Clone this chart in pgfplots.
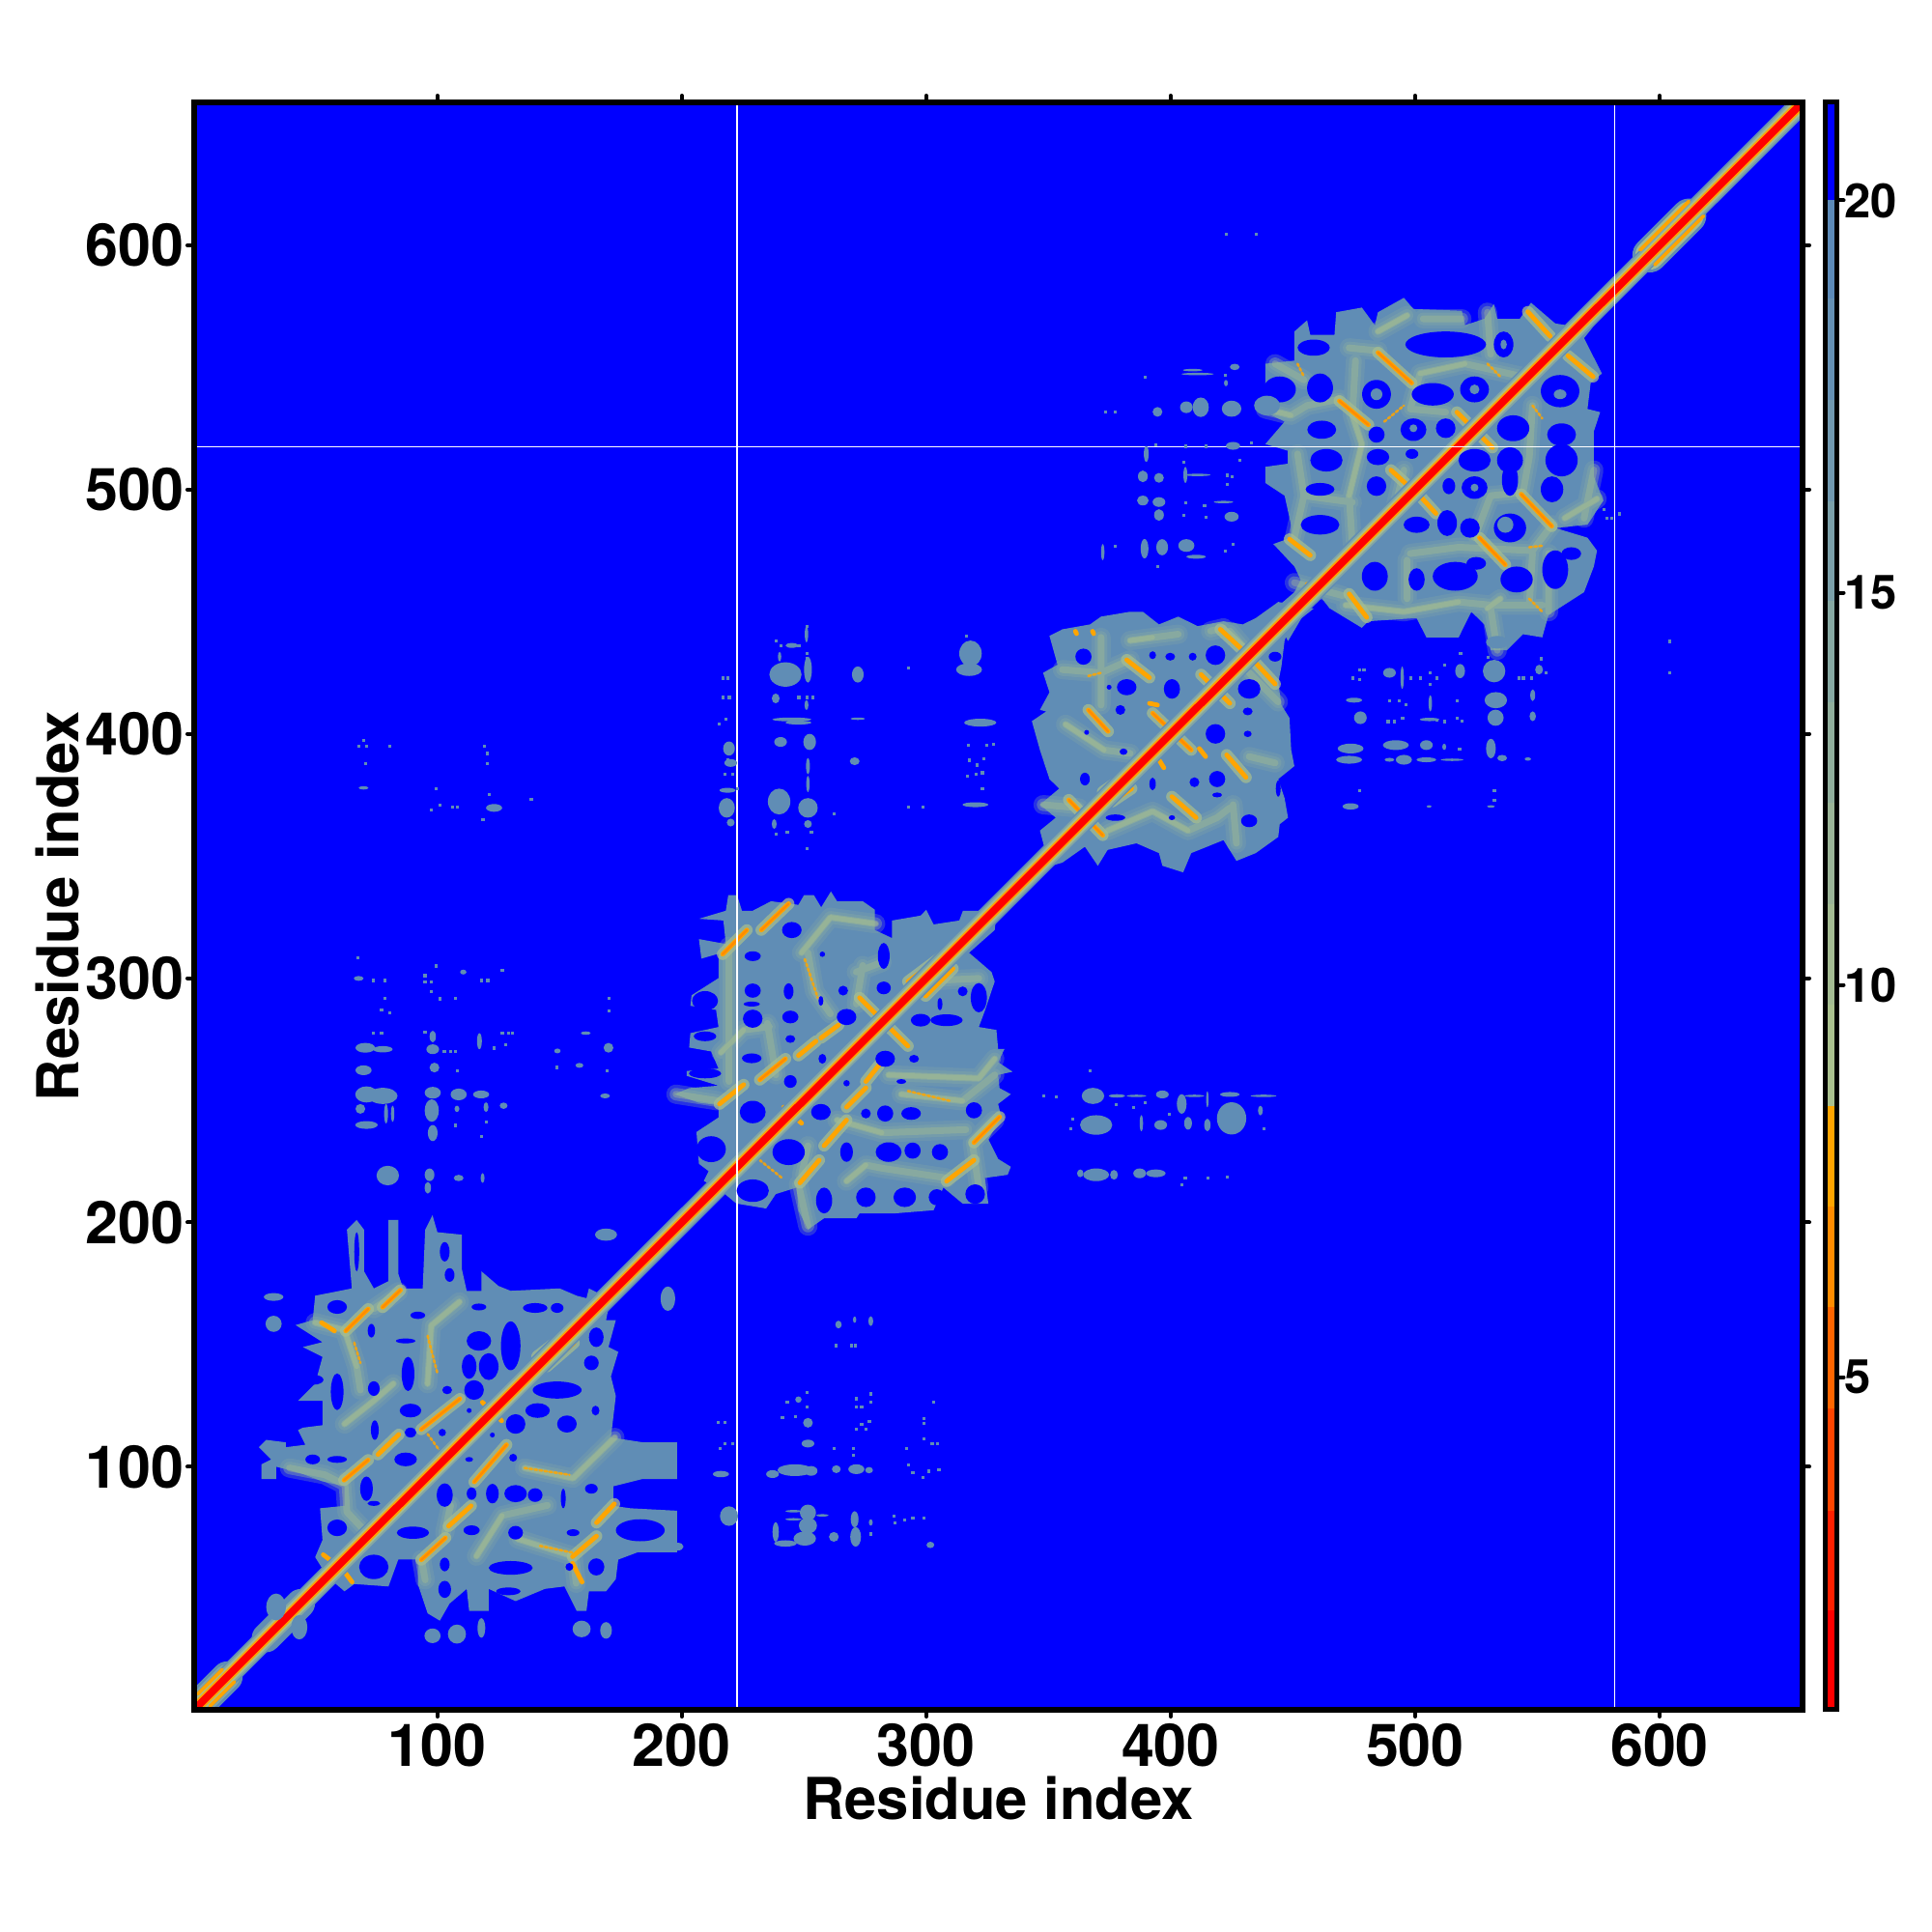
\documentclass[border=0pt]{standalone}
\usepackage{fontspec}
\setmainfont{TeX Gyre Heros}
\usepackage{pgfplots}
\usepackage{pgfplotstable}
\pgfplotsset{compat=1.18}
\definecolor{bgblue}{HTML}{0000FF}
\definecolor{steel}{HTML}{608DB5}
\definecolor{ridgeA}{HTML}{82A6A6}
\definecolor{ridgeB}{HTML}{A5BD90}
\definecolor{orgA}{HTML}{FFA500}
\definecolor{orgB}{HTML}{FF8C00}
\definecolor{redA}{HTML}{FF0000}
\definecolor{cb1}{HTML}{FF2000}
\definecolor{cb2}{HTML}{FF4500}
\definecolor{cb3}{HTML}{FF6600}
\definecolor{cb4}{HTML}{FF8C00}
\definecolor{cb5}{HTML}{A9C08E}
\definecolor{cb6}{HTML}{A3BB92}
\definecolor{cb7}{HTML}{9AB497}
\definecolor{cb8}{HTML}{90AE9C}
\definecolor{cb9}{HTML}{86A8A2}
\definecolor{cb10}{HTML}{7BA0A9}
\definecolor{cb11}{HTML}{7098AF}
\definecolor{cb12}{HTML}{6691B4}
\definecolor{cb13}{HTML}{5C8AB8}
\pgfdeclareplotmark{bell}{\pgfpathellipse{\pgfpointorigin}{\pgfpoint{\rxv pt}{0pt}}{\pgfpoint{0pt}{\ryv pt}}\pgfusepathqfill}
\pgfplotsset{
 blobs/.style={scatter, only marks, mark=bell, scatter/use mapped color={draw=none,fill=#1},
   visualization depends on={\thisrow{rx}*1.265 \as \rxv},
   visualization depends on={\thisrow{ry}*1.265 \as \ryv}},
 pix/.style={only marks, color=#1, mark=square*, mark size=0.55pt, mark options={solid,fill=#1,draw=#1,line width=.1pt}},
 strk/.style 2 args={draw=#1, line width=#2, line cap=round, line join=round, no marks, unbounded coords=jump},
 seg/.style={fill=#1, draw=none},
}
\pgfplotstableread[row sep=\\]{x y\\
50 159\\62 156\\67 141\\68.5 131.4\\nan nan\\39.5 99.5\\54 96.7\\62 92.6\\nan nan\\62 117.5\\74 127\\82 134\\nan nan\\96 134\\97.5 157.8\\109 167.5\\nan nan\\74 164.7\\84 171.6\\nan nan\\135.7 99.5\\155.5 95.3\\172.6 112\\nan nan\\116 63.4\\126.5 80\\145 84.2\\nan nan\\133 70.4\\155.5 63.4\\nan nan\\103 73\\105.4 84.2\\nan nan\\155.5 63.4\\156.8 52.3\\nan nan\\95 53.7\\93.5 62\\nan nan\\62 95.3\\63 81.5\\71 73\\nan nan\\
249 310.4\\260.8 324.9\\279.3 322.3\\nan nan\\251.6 310.4\\254.3 294.6\\260.8 285.4\\nan nan\\274 305.2\\271.4 289.4\\nan nan\\271.4 302.5\\281.9 306.5\\nan nan\\216 269.6\\225.3 278.8\\235.8 280.1\\nan nan\\284.6 260.4\\321.5 259\\328 267\\nan nan\\289.8 252.5\\314.9 249.8\\328 260.4\\nan nan\\197.6 252.5\\214.7 249.8\\nan nan\\267.4 216.9\\275.3 223.5\\281.9 222.2\\308.3 218.2\\nan nan\\251.6 198.5\\247.7 215.6\\nan nan\\263.5 241.9\\281.9 236.7\\316.2 238\\nan nan\\328 241.9\\318.8 232.7\\321.5 214.3\\nan nan\\295 298.6\\321.5 299.9\\nan nan\\219.3 313\\219.3 257.7\\nan nan\\235 281.5\\238.5 260.4\\nan nan\\251.6 231.4\\249 219.5\\nan nan\\
383.4 438.2\\403.1 440.8\\nan nan\\416.3 442.1\\421.6 443.4\\nan nan\\355.7 426.3\\371.5 425\\383.4 430.3\\nan nan\\432.1 390.7\\442.7 388.1\\nan nan\\374.2 360.4\\392.6 368.3\\407.1 360.4\\419 365.7\\424.2 369.7\\nan nan\\347.8 371\\362.3 369.7\\nan nan\\357 403.9\\372.8 393.4\\383.4 392\\nan nan\\426.9 355.2\\425.5 371\\nan nan\\432.1 425\\444 413.1\\nan nan\\424.2 442.1\\432.1 432.9\\nan nan\\371.5 439.5\\371.5 411.8\\nan nan\\
438.7 533\\449.2 530.4\\455.8 534.4\\469 537\\nan nan\\502 547.5\\520.4 551.5\\544.1 546.2\\nan nan\\442.7 551.5\\454.5 544.9\\nan nan\\473 558\\484.8 556.8\\nan nan\\475.6 552.8\\474.3 530.4\\478.2 518.6\\473 497.5\\474.3 477.7\\nan nan\\502 547.5\\498 533\\512.5 531.7\\nan nan\\530.9 497.5\\544.1 498.8\\546.7 513.3\\548 534.4\\nan nan\\530.9 497.5\\524.3 480.3\\nan nan\\556 485.6\\548 475\\517.8 476.4\\498 473.8\\nan nan\\451.9 514.6\\454.5 497.5\\450.6 480.3\\nan nan\\454.5 497.5\\474.3 494.8\\nan nan\\495.4 508\\491.4 490.9\\nan nan\\471.6 452.7\\495.4 450\\517.8 454\\530.9 452.7\\552 452.7\\nan nan\\530.9 451.4\\533.6 434.2\\nan nan\\569.1 488.3\\573.1 508\\nan nan\\470.3 456.6\\450.6 461.9\\nan nan\\496.7 471.1\\496.7 455.3\\nan nan\\554.6 473.8\\554.6 450\\nan nan\\484.8 564.7\\496.7 571.3\\nan nan\\561.2 488.3\\574.4 496.2\\nan nan\\529.6 451.4\\534.9 455.3\\nan nan\\503.3 569.9\\519.1 569.9\\nan nan\\529.6 572.6\\530.9 555.4\\nan nan\\548 473.8\\546.7 452.7\\}\ridgetbl
\begin{document}
\begin{tikzpicture}
\path[use as bounding box] (0,0) rectangle (1000pt,1000pt);
\begin{axis}[
 at={(100.5pt,115pt)}, anchor=south west, scale only axis, width=832.5pt, height=832pt,
 xmin=0.5,xmax=658.5,ymin=0.5,ymax=658.5,
 axis background/.style={fill=bgblue},
 axis on top, axis line style={line width=3pt, black},
 xtick={100,200,300,400,500,600}, ytick={100,200,300,400,500,600},
 xtick pos=both, ytick pos=both, tick align=outside, major tick length=3.5pt,
 tick style={black, line width=2pt, line cap=round},
 /pgf/number format/assume math mode=true,
 xticklabel pos=bottom, yticklabel pos=left,
 ticklabel style={font=\bfseries\fontsize{30.5}{30.5}\selectfont},
 xticklabel style={yshift=0pt},
 yticklabel style={xshift=1.5pt},
 xlabel={Residue index}, ylabel={Residue index},
 every axis x label/.style={at={(axis description cs:0.5,-0.0547)},anchor=center,font=\bfseries\fontsize{29.9}{29.9}\selectfont},
 every axis y label/.style={at={(axis description cs:-0.0847,0.5)},anchor=center,rotate=90,font=\bfseries\fontsize{29.9}{29.9}\selectfont},
]
% ---------- domain bodies ----------
\addplot[fill=steel,draw=none] coordinates {(55,55)(50,63)(53,70)(52,83)(62,84)(62,92)(53,94)(45,97)(38,99)(34,100)(34,95)(28,95)(28,101)(32,103)(27,108)(30,111)(38,110)(38,108)(46,109)(43,115)(45,116)(53,117)(53,127)(43,127)(50,134)(53,145)(45,149)(53,151)(42,158)(49,160)(50,170)(65,173)(63,197)(67,201)(70,197)(70,180)(74,173)(80,176)(80,201)(84,201)(84,179)(86,173)(94,173)(95,197)(98,203)(100,196)(110,195)(110,181)(112,172)(118,172)(118,180)(125,174)(130,172)(150,173)(157,170)(161,169)(162,173)(168,170)(170,165)(169,160)(173,160)(170,149)(174,147)(171,137)(173,129)(171,112)(184,110)(198,110)(198,95)(184,95)(172,92)(172,84)(179,83)(198,82)(198,65)(182,65)(174,62)(173,54)(169,49)(162,49)(161,41)(157,41)(152,51)(144,50)(132,45)(121,50)(121,41)(113,41)(112,50)(105,44)(101,37)(96,40)(92,52)(92,62)(84,62)(80,51)(66,52)(62,49)} --cycle;
\addplot[fill=steel,draw=none] coordinates {(222,208)(216,213)(209,217)(211,221)(207,224)(206,237)(215,243)(215,248)(207,249)(197,252.5)(203,255)(215,256)(202,260)(202,262)(215,263)(212,270)(203,271.6)(203.5,277.5)(215,280)(214,287)(203.5,288.7)(204,293)(215,300)(215,310)(208,308)(207,316)(218,314)(217,323.6)(207,324.3)(218,327.6)(219,334)(222.6,334)(224.6,327.6)(229,327.6)(236.5,331.5)(247.7,330)(250,334)(254,334)(257,329)(261,335.5)(263.5,331.5)(274,331.5)(279,328)(279,319.7)(286,316.4)(286,323.6)(297.7,325.6)(300,328)(303,322)(313.5,323.6)(315,327.6)(321.5,327.6)(329.4,332.8)(328,319.7)(317.5,310.4)(326.7,302.5)(328,298.6)(324,286.7)(321.5,280)(328.7,278.8)(329.4,271)(332,271)(329.4,265.6)(335.3,261.7)(329.4,260.4)(330,255)(334.6,252.5)(329.4,248.5)(330.7,243.2)(325.4,234)(329.4,226)(334.6,222.8)(333.3,219.5)(324,218.2)(325.4,207.7)(314.9,207.7)(307,214.3)(303,205)(287,203.7)(272.7,203.7)(271.4,201.7)(258.2,201.7)(251.6,197.1)(247.7,205)(247,214.3)(238.4,211.6)(234.5,205.7)(222.6,207.7)} --cycle;
\addplot[fill=steel,draw=none] coordinates {(349,351)(346.5,360.4)(353,365.7)(346.5,371)(354.4,377.6)(350.4,381.5)(346.5,393.4)(343.2,405.2)(349.1,409.2)(346.5,409.8)(350.4,417)(347.8,425)(353.7,428.3)(350.4,440.1)(355.7,442.8)(367,444.8)(371.5,448)(383.4,450)(388.6,450)(395.2,444.8)(403.1,448)(411,444.1)(421.6,446.1)(429.5,444.8)(434.8,447.4)(444,454)(458.5,451.3)(448.6,443.4)(446.6,438.2)(445.3,427.6)(444,421)(445.3,411.8)(448.6,406.5)(449.3,393.4)(450.6,386.8)(444,381.5)(446.6,373.6)(448,365.7)(444.6,363)(444,357.8)(434.8,351.2)(426.9,348)(421.6,356.5)(408.4,351.2)(405.1,343.3)(396.6,346)(395.2,351.2)(386,355.2)(374.2,352.5)(370.2,346)(364.9,353.8)(355.7,347.3)(346.5,344.6)} --cycle;
\addplot[fill=steel,draw=none] coordinates {(448,438)(441.3,450)(450.6,458)(453.2,463)(450.6,468.5)(442,477.7)(449.2,480.3)(449.2,485.6)(446.6,497.5)(438.7,502.7)(438.7,509.3)(447.9,510.6)(447.9,515.9)(438.7,518.6)(446.6,527.8)(438.7,531.7)(438.7,551.5)(450.6,552.8)(450.6,564.7)(455.8,569.3)(457.1,563.3)(467,563.3)(467.7,572.6)(478.2,574.5)(483.5,567.3)(484.8,572.6)(495.4,578.5)(499.3,573.9)(519.1,573.2)(520.4,567.3)(528.3,569.9)(532.2,575.9)(533.6,569.9)(542.8,569.9)(547.4,576.5)(557.3,568)(561.9,567.3)(577,580.5)(581.7,577.8)(569.1,562)(576.4,547.5)(571.8,543.6)(570.5,533)(575.7,531.7)(573.1,523.8)(573.1,505.4)(577,495.5)(570.5,485.6)(557.3,484.3)(570.5,480.3)(574.4,475)(573.1,468.5)(569.1,458)(554.6,448.7)(552,439.5)(544.1,440.8)(537.5,434.2)(530.9,434.2)(528.3,444.8)(523,450)(517.8,439.5)(504.6,439.5)(500.6,447.4)(480.9,446.1)(478.2,443.4)(465,451.4)(459.8,458)} --cycle;
% ---------- ridges (soft, layered) ----------
\addplot[strk={ridgeA}{10pt},opacity=.3] table {\ridgetbl};
\addplot[strk={ridgeA}{6.5pt},opacity=.45] table {\ridgetbl};
\addplot[strk={ridgeB}{3.5pt},opacity=.4] table {\ridgetbl};
\addplot[strk={ridgeB}{2.5pt},opacity=.5] table[row sep=\\] {x y\\
50 159\\62 156\\67 141\\nan nan\\62 117.5\\74 127\\82 134\\nan nan\\96 134\\97.5 157.8\\109 167.5\\nan nan\\135.7 99.5\\155.5 95.3\\172.6 112\\nan nan\\116 63.4\\126.5 80\\nan nan\\133 70.4\\155.5 63.4\\nan nan\\
249 310.4\\260.8 324.9\\279.3 322.3\\nan nan\\216 269.6\\225.3 278.8\\nan nan\\284.6 260.4\\321.5 259\\328 267\\nan nan\\289.8 252.5\\314.9 249.8\\nan nan\\267.4 216.9\\275.3 223.5\\nan nan\\263.5 241.9\\281.9 236.7\\nan nan\\
383.4 438.2\\392.6 439.5\\nan nan\\374.2 360.4\\392.6 368.3\\407.1 360.4\\nan nan\\357 403.9\\372.8 393.4\\nan nan\\
484.8 564.7\\496.7 571.3\\nan nan\\561.2 488.3\\574.4 496.2\\nan nan\\529.6 451.4\\534.9 455.3\\nan nan\\502 547.5\\520.4 551.5\\nan nan\\471.6 452.7\\495.4 450\\517.8 454\\nan nan\\474.3 530.4\\478.2 518.6\\473 497.5\\nan nan\\438.7 533\\449.2 530.4\\};
% ---------- holes ----------
\addplot[blobs=bgblue] table[row sep=\\] {x y rx ry\\
183 74 10 4.5\\59 165.4 4 2.8\\73 155.7 1.5 2.8\\87 151.5 4 1\\92 162 3 1.5\\117 165.4 3 1.4\\140 165 5 2\\149 165 2.6 2\\130 149.5 4 10\\117 151.5 5 4\\113 141 3 5\\121 141 4 5.5\\165 153 3 4\\163 142.5 3 3\\115 131.4 4 4\\104 131.4 2 1.7\\149 131.4 10 3.5\\74 132 2.4 3\\59 130.7 2.6 7.5\\88 138 2.6 7\\89 123 4.4 2.8\\74.4 115 1.6 4\\89 114 2.4 2\\102 114 1.5 1.5\\113 123 1 1\\122.5 113 1 1\\132 117.5 4 4\\141 123 5 3\\153 117.5 4 3.5\\164.7 123 1.6 2\\87 103 4.6 2.8\\59 103 4 1.4\\49 103 3 2\\113 103 1.6 1\\131 103.7 1.6 1.6\\103 88.4 3.3 4.8\\114 89 2 2.5\\122.5 89 2.6 4\\132 89 4.6 3.5\\140 88.4 3 2.8\\151.5 87 1 4\\163 91 2.6 2\\71 91 2.6 5\\74 85 2.6 1\\59 75 4 3.4\\90 73 6.6 2.5\\114 74 3.3 2\\132 73 3 2.8\\155.5 73 2.6 1.4\\74 59 6 5\\87 58 2.6 3.5\\103 60 2 2.8\\130 58.6 9 2.8\\165 59 3.3 3.5\\103 49.8 2.6 3.5\\129 49 5 1.6\\154 59 1.6 1.6\\67 188 1 8\\103 188 2 4\\105 178.5 2 2.8\\49.4 135.6 4 2\\
245 319.7 4 3.3\\257.5 309.8 1.1 1.1\\229 309 3.3 2\\229 294.9 3.3 2.9\\243.7 294.6 2 3.3\\229 283.4 4 3.7\\244.4 284.1 3.3 2.6\\244.4 275.1 2 1.6\\228.6 267.2 4 2\\266 294.9 2 2\\267.4 284.1 4 3.3\\282.6 296 2.9 2.6\\282.6 309.1 2.4 5.3\\283.2 267 4 3.3\\295 267 2 1.6\\257.5 267 1.6 2\\297.7 282.8 4 2.6\\308.3 282.8 6.6 2.4\\321.5 292 3.3 6\\314.9 294.6 2 2\\244.4 257.7 2.6 2.6\\267.4 257 1.3 1.3\\229 245.2 5.3 4.6\\256.9 245.2 4 3.3\\283.2 244.6 3.3 3.3\\275.3 244.6 2 2\\293.8 244.6 4 2.6\\319.5 245.9 3.3 3.3\\212 230 6 5.3\\243.7 228.8 6.6 5.3\\267.4 228.8 2.6 4\\284.6 228.8 5.3 4\\294.4 229.4 3.3 3.3\\305.6 228.8 3.3 3.3\\229 213 6.6 4.6\\258.2 209 3.3 5.3\\275.3 210.3 4 4\\291.2 210.3 4.6 4\\304.3 210.3 3.3 3.3\\320 211.6 4 4\\209.5 290.7 5.3 4\\209.5 276.2 4.6 2\\209.5 261 6.6 2\\289.8 257.7 2 1\\305.6 289.4 1 2.6\\256.9 290.7 1 2\\228.6 289.4 3.3 1\\
364.3 431.6 3.3 3.3\\392.6 432.2 1.4 1.6\\399.8 431.6 2 1.6\\409 431.6 1.6 1.6\\418.3 432.2 4 4\\400.5 418.4 3.3 4\\432.1 418.4 4.6 4\\382 419.1 4 3.3\\374.8 419.1 1 1\\379.4 409.8 2 2\\431.5 409.2 2 1.6\\418.3 400 4 4\\431.5 400 1.6 1.3\\419 381.5 3.3 3.3\\409.7 380.2 2 2\\392.6 379.5 1.3 2.6\\364.9 381.5 2 2.6\\377.4 365.7 4 1.3\\400.5 365.7 1.3 1\\432.1 364.4 3.3 2.6\\380.7 392.7 1.6 1.3\\365.6 400.6 1 1\\442.7 431.6 2.6 2\\419 375 2 1\\444 377.6 1 3.3\\
461.1 541.6 5.3 5.9\\484.2 539 5.9 5.9\\507.2 539 8.6 4.6\\524.3 541 5.9 5.3\\559.3 540.3 7.9 6.6\\461.8 524.5 5.9 3.7\\499.3 524.5 5.3 4.6\\512.5 525.1 4 4\\540.1 525.1 6.6 5.3\\559.9 522.5 5.9 4.6\\484.2 522.5 3.3 3.3\\463.7 512 6.6 4.6\\484.8 513.3 4.6 3.3\\498.7 514.6 2.6 2\\524.3 512 6.6 4.6\\538.8 512 5.3 5.3\\559.9 512 6.6 6.6\\461.1 500.1 5.9 2.6\\484.2 501.4 4 4\\524.3 500.8 5.3 4.6\\513.8 501.4 2.6 3.3\\538.8 504 3.3 6.6\\556 500.1 4.6 5.3\\461.1 485.6 7.9 4\\500.6 485.6 5.3 3.3\\513.1 486.3 4 5.3\\522.4 484.3 4 4\\538.8 484.3 6.6 5.9\\483.5 464.5 5.3 5.9\\500.6 463.2 3.3 4.6\\516.4 464.5 9.2 5.9\\525 469.8 4 2.6\\541.5 463.2 6.6 5.3\\557.3 467.2 5.3 7.9\\512.5 559.4 16.5 5.3\\536.2 559.4 4 5.3\\458.5 558.1 6.6 3.3\\444.6 541 6.6 5.3\\563.9 473.8 4 2.6\\};
% ---------- steel islands and off-diagonal clusters ----------
\addplot[blobs=steel] table[row sep=\\] {x y rx ry\\
484.2 539 2.4 2.4\\524.3 541 2 2\\559.3 539 2.6 2\\536.2 559.4 1.3 2\\499.3 525.1 1.6 1.6\\524.3 500.8 1.6 1.6\\536.9 485.6 3.3 3.3\\
33 169.5 4 1.6\\33 158.5 3.3 3.3\\34 42.6 4 5.5\\43.5 34.3 3.3 5\\98 30.8 3.3 3\\108 31.5 3.7 3.9\\118 34 1.6 4\\159 33.6 3.7 3.4\\169 33 2.4 3.4\\169 195 4.5 2.5\\194.3 168.8 3 5\\
219.3 79.8 3.7 4\\251.6 81.2 3.3 3.3\\251.6 75.9 3.7 3.3\\250.3 70.6 4.6 2.9\\242.4 68.6 4.6 1.3\\238.4 73.3 1.3 4\\270.7 78.5 1.6 3.3\\271.1 71.3 2.2 4\\262.2 71.3 2 2\\277.3 77.2 .8 1.3\\246.3 98.6 7.2 2.4\\252.9 98.3 2.6 2\\237.1 97 2.6 1.6\\263.2 99 1.8 1.6\\271.4 99 3.3 2\\276.6 98.6 1.6 1.3\\216 97 3.3 1.3\\198.3 67.3 2.4 1.6\\251.6 118 2 2\\247.7 127.5 1.3 1.3\\251.6 109.5 2.6 1.6\\264.1 158.2 1.3 1.6\\277.3 159.6 1 2\\270.7 160.2 .7 1.3\\301.7 68 1.6 1.3\\245.7 81.8 3.3 .5\\245.7 78.5 3.3 .5\\257.5 80.1 2.6 .5\\
70.5 271.5 4 2\\77.7 270.9 4 1.3\\71 252.4 4.6 3.3\\77.7 251.8 6 3.3\\98.1 276.1 1.3 2.4\\98.1 270.9 2.6 2\\98.8 263.4 2 2\\98.1 253.1 3.3 2.4\\97.7 245.8 2.9 4.6\\79.7 219.2 4.6 4\\68.5 246.5 2 2\\108.7 252.4 3.3 2.4\\117.9 252.4 3.3 1.6\\127.1 247.8 1.6 1.3\\69.8 262.3 3.3 2\\71 239.9 4.6 1.6\\67.8 299.9 2 1\\69.8 377.9 2 .7\\110.6 302.5 1.3 1\\123.2 369.7 3.3 1.6\\160.7 277.5 2 .7\\170 271.5 2 2\\158.1 264.3 1.6 1\\149.1 270.2 1.3 1\\96.8 219.5 2 2.6\\96.1 214.2 1.3 2.4\\108.7 218.2 2 1.3\\118.5 218.2 .8 2\\79 244.5 .8 4\\81.7 244.5 .7 3.3\\119.9 247.2 1 2\\108 246.5 1 1.3\\168.6 251.8 2 1\\117.2 274.2 1 3.3\\98.1 236.6 2 3.3\\
368.2 251.8 4.6 3.3\\369.5 239.9 6.6 4\\378 251.8 3.3 .7\\396.6 252.4 2.6 1.6\\404.5 248.5 2 4\\407.1 240.6 1.6 2.6\\415 239.9 1.3 2.6\\424.9 242.6 6 6.6\\424.2 252.4 4 1\\395.9 239.9 2.6 2\\369.5 219.5 5.3 2.6\\376.8 219.5 1.6 2\\363 220.1 1.3 1.6\\393.9 220.1 4 1.6\\387.3 220.1 2.6 2\\436.7 245.8 1 2\\438 251.8 5.3 .5\\386 251.8 4 .5\\409.7 251.8 4 .5\\415 250.4 .5 3.3\\388 240.6 .7 3.3\\
242.4 424.3 6.6 5\\251.6 426.3 1.6 5.3\\272 424.3 2.4 3.3\\318.1 432.9 4.6 5.3\\317.5 426.3 5.3 2.6\\239.8 372.3 4.6 5.3\\251.6 369.7 4 4\\218.4 369.7 3.3 4\\220 363.7 1.6 1.6\\218.7 376.9 3.3 1\\219.3 394 2.4 2.9\\220 388.1 2.6 1.6\\252.3 396.7 2.6 3.3\\240.4 396.7 2.6 2\\238.4 414.5 1.6 2\\245 405.9 8 .8\\247.7 404.6 5.3 .8\\270.7 388.8 2 1.6\\272 406.2 2.9 .5\\322.1 404.6 6.6 1.6\\320.1 371 5.3 1\\251.6 379.5 .7 3.3\\251.6 386.8 .8 3.3\\251 411.8 .8 2\\240 431.6 .7 2\\251 440.8 .7 3.3\\237.8 363.1 1 2\\251.6 363.1 1.6 1.6\\245 436.2 2.6 1\\
439.4 534.4 5.3 4\\424.9 533.1 4 3.3\\412.3 533.7 3.3 4\\406.4 533.7 2.6 2.4\\394.6 531.8 2 2\\425.5 517.9 2.9 1.6\\388.6 505.4 2 2.4\\395.2 504.8 2 2\\388.6 495.5 2.4 2\\395.2 494.9 2.6 2\\395.2 489.6 2 2.4\\424.9 488.9 2.9 2\\389.3 475.8 1.6 4\\396.5 476.4 2.4 3.3\\406.4 477.1 3.3 2.6\\411 506 5.3 .5\\409 548.9 4 .5\\411 547.3 6.6 .5\\426.2 550.2 2 1.3\\390 514.6 1 3.3\\421.6 494.9 4 .5\\410.4 472.5 4 .8\\372.2 474.4 .7 3.3\\406 506 .8 3.3\\422.6 543.6 .8 1.3\\
532.3 425.7 4.6 4.6\\533.6 437.5 4.6 2.6\\533 413.8 4.6 3.3\\532.9 406.6 3.3 3.3\\518.4 425.7 2 2.9\\489.5 425 2.6 2\\477.6 406.6 2.6 2.6\\475 413.8 3.3 1\\550.7 426.3 1.6 2\\505.9 405.9 4 .7\\506.2 412.5 .7 3.3\\548.1 415.8 1 2.4\\548.1 407.2 1.3 2\\473.6 394 5.3 2\\473 389.4 5.3 1.6\\492.1 395.4 5.3 2\\495.4 389.4 3.3 2\\504.6 395.4 2.6 2\\504.6 389.4 4 1\\531 394 2 4\\535.6 390.1 2 1.3\\546.1 389.7 1.3 .7\\515.1 389.4 4.6 .5\\473.6 370.3 3.3 1.3\\531 370.3 1.6 .5\\505.7 370.3 1 .5\\494.7 423 .7 4.6\\511.9 394.7 .8 1.3\\489.5 389.4 2 .8\\};
\addplot[pix=steel] table[row sep=\\] {x y\\
214.7 118.3\\217.4 118.3\\215.4 107.5\\217.4 109.5\\220.7 109.5\\243 126.6\\251 124.6\\251 130.6\\271.4 128\\277.3 130\\277.3 126.6\\271.4 124.6\\273.4 124.6\\241 120.4\\246.3 120.7\\273.4 117.4\\276.6 118.7\\271.4 115.4\\275.3 115.4\\299 120\\299 118\\299 111.5\\302.3 109.5\\304.3 109.5\\262.2 107.5\\270 107.5\\270 104.9\\291.8 107.5\\303 126.6\\292.5 101\\294.4 97.6\\298.4 95.7\\301 98.3\\305 99\\286.5 79.8\\287.2 77.2\\291.1 78.5\\294.4 79.2\\299 79.2\\277.3 72.6\\262.8 149.7\\269.4 149.7\\270.7 149.7\\
67.2 308.4\\69.8 397.4\\67.8 395.1\\71 395.1\\80.3 395.1\\70.5 388.1\\119.2 395.1\\120.3 392.1\\120.3 388.1\\99.2 377.6\\121.2 375.2\\138.3 373.2\\97.5 369\\100.8 371\\106 370.1\\108 370.1\\118.5 365.1\\94.8 301.2\\97.5 298.5\\94.8 298.5\\99.4 305.1\\73.7 299.2\\78.4 299.2\\126.4 303.2\\117.9 299.2\\120.5 299.2\\97.5 294.6\\100.8 291.7\\107.3 292\\78.4 292\\77 287.3\\80.3 286\\170 292\\170 286.9\\108 262.3\\107.1 239.9\\119.9 241.2\\117.9 235.3\\73.7 277.5\\77 277.5\\94.8 278.1\\102.7 270.2\\105.4 270.2\\107.3 270.2\\123.2 271.5\\127.8 272.9\\126.4 277.5\\129.1 277.5\\130.4 277.5\\148.8 263.6\\169.3 262.3\\
347.8 251.8\\353 251.4\\366.9 262.3\\405.8 218.2\\415 218.2\\422.9 218.8\\404.5 215.5\\438 238.6\\359 238.6\\359.7 242.5\\377.5 248.5\\384.7 247.2\\389.3 249.1\\399.2 244.5\\
216.7 423\\218.7 423\\216.7 415.1\\219.3 415.1\\218 406.3\\215 404.2\\217.4 383.5\\220.7 383.5\\218.7 389.4\\222.6 377.6\\251 444.1\\238.4 438.2\\240.4 436.2\\247.7 436.2\\251 432.9\\247.7 415.1\\251 415.1\\253.6 415.1\\251 430.9\\243 359.8\\238.4 359.1\\252.9 359.8\\251 353.2\\262.2 367.3\\292.5 427\\292.5 370.3\\298.4 370.3\\316.2 440.2\\322.8 384.2\\316.8 382.8\\320.1 383.5\\323.4 390.1\\317.5 389.4\\320.8 387.4\\322.8 377.6\\317.2 395.4\\324.7 395.4\\327.4 396\\
389.3 546.2\\373.1 532\\377 532\\422.2 546.9\\393.9 518.6\\406 517.9\\414.3 517.9\\405.1 511.3\\428.2 512\\422.9 506\\424.9 505.4\\422.9 502.1\\406 494.9\\413.7 493.5\\405.1 489.6\\414.3 488.9\\422.2 475.1\\425.5 477.7\\394.6 468.5\\377 477.1\\432.8 519.2\\
474.3 423\\477 426.3\\478.9 426.3\\477 422.4\\498 423\\502 423\\505.9 425\\508.6 423\\505.9 420.4\\511.9 428.3\\518.4 432.9\\529.6 431.6\\542.2 423\\544.1 423\\547.4 423\\551.4 430.9\\553.4 425\\489.5 413.8\\493.4 413.8\\496 412.1\\488.8 405.2\\491.4 405.2\\494.7 406.6\\517.1 413.8\\517.1 406.6\\519.1 405.5\\511.9 405.2\\508.6 405.9\\532.3 376.9\\532.3 373\\477 376.9\\518 394\\
577 492\\580.3 488.3\\583.6 490.2\\578.4 488.3\\435 604.7\\422.5 604.7\\604 438\\604 425\\};
% ---------- orange contact segments ----------
\addplot[strk={ridgeB}{6pt},opacity=.75] table[row sep=\\] {x y\\
77.6 165.3\\84.9 172.3\\nan nan\\62.5 155.6\\71.7 164.6\\nan nan\\93.4 115.3\\109.2 127.8\\nan nan\\75.7 105\\84.2 113.2\\nan nan\\61.8 94.5\\71.7 102.8\\nan nan\\115.1 93.8\\128.3 109\\nan nan\\104.6 75.7\\113.8 84\\nan nan\\93.4 61.9\\103.3 70.9\\nan nan\\165.1 77.1\\172.4 84.8\\nan nan\\155.3 63.2\\165.1 71.6\\nan nan\\140.8 145.2\\155.3 156.3\\nan nan\\144.7 141\\155.9 150.7\\nan nan\\
216.7 309.8\\226.6 319.7\\nan nan\\232.5 319.7\\243.7 330.5\\nan nan\\215.4 248.5\\225.3 256.4\\nan nan\\231.9 258.4\\242.4 267\\nan nan\\247.7 268.3\\254.9 274.2\\nan nan\\256.9 275.5\\264.1 280.8\\nan nan\\267.4 247.2\\275.3 255.1\\nan nan\\275.3 257.7\\280.6 264.3\\nan nan\\258.2 231.4\\267.4 241.9\\nan nan\\248.3 216.2\\256.2 225.5\\nan nan\\319.5 232.7\\330 243.2\\nan nan\\308.3 216.9\\319.5 225.5\\nan nan\\272.7 292\\292.5 272.2\\nan nan\\292.5 298.6\\308.3 310.4\\nan nan\\299.7 292.7\\310.9 303.9\\nan nan\\
420.3 442.8\\428.8 434.9\\nan nan\\434.8 429\\442.7 420.4\\nan nan\\382 430.3\\391.3 423\\nan nan\\412.4 424.3\\424.2 412.5\\nan nan\\366.3 409.8\\374.4 401\\nan nan\\392.6 408.5\\408.4 393.4\\nan nan\\422.9 391.4\\430.8 382.2\\nan nan\\400.5 374.3\\410.4 365.7\\nan nan\\358.3 373\\372.2 358.5\\nan nan\\372.2 376.3\\383.4 384.2\\nan nan\\376.1 372.3\\384 377.6\\nan nan\\350.4 351.2\\359.7 359.1\\nan nan\\
546.1 572.8\\555.3 562.7\\nan nan\\562.5 554.8\\572.8 546.2\\nan nan\\484.8 556.1\\498.6 543.6\\nan nan\\469 536.3\\480.9 526.5\\nan nan\\517.1 531.7\\531.6 517.2\\nan nan\\490.1 508\\497.3 501.4\\nan nan\\501.9 497.5\\508.5 490.2\\nan nan\\543.4 498.1\\555.9 485\\nan nan\\526.3 480.3\\536.9 469.2\\nan nan\\448.6 479.7\\457.1 473.1\\nan nan\\473 457.3\\480.2 447.7\\};
\addplot[strk={orgA}{1.3pt},dash pattern=on 1.3pt off 1.3pt,opacity=.85] table[row sep=\\] {x y\\
96 153.6\\100 138.3\\nan nan\\66 150.8\\68.5 142.5\\nan nan\\135.7 99.5\\154 96.7\\nan nan\\142 67.6\\155.5 64.8\\nan nan\\96 113.4\\104 102.3\\nan nan\\250.3 307.8\\255.6 292\\nan nan\\292.5 253.8\\309.6 249.8\\nan nan\\231.9 225.5\\241 218.2\\nan nan\\451.9 551.5\\454.5 546.2\\nan nan\\529.6 551.5\\534.9 546.2\\nan nan\\487.4 527.8\\495.4 534.4\\nan nan\\548 534.4\\552 529.1\\nan nan\\546.7 476.4\\552 477\\nan nan\\546.7 455.3\\552 450\\nan nan\\366.3 423.7\\371.5 425\\};
\addplot[strk={orgA}{2.4pt}] table[row sep=\\] {x y\\
77.6 165.3\\84.9 172.3\\nan nan\\62.5 155.6\\71.7 164.6\\nan nan\\52.6 159\\57.9 155.6\\nan nan\\93.4 115.3\\109.2 127.8\\nan nan\\75.7 105\\84.2 113.2\\nan nan\\61.8 94.5\\71.7 102.8\\nan nan\\115.1 93.8\\128.3 109\\nan nan\\104.6 75.7\\113.8 84\\nan nan\\93.4 61.9\\103.3 70.9\\nan nan\\165.1 77.1\\172.4 84.8\\nan nan\\155.3 63.2\\165.1 71.6\\nan nan\\53.3 64\\57.2 61\\nan nan\\62.5 56.3\\65.1 52.8\\nan nan\\118.4 126.4\\126.3 118.8\\nan nan\\140.8 145.2\\155.3 156.3\\nan nan\\144.7 141\\155.9 150.7\\nan nan\\155.3 60.5\\159.2 52.8\\nan nan\\
216.7 309.8\\226.6 319.7\\nan nan\\232.5 319.7\\243.7 330.5\\nan nan\\215.4 248.5\\225.3 256.4\\nan nan\\231.9 258.4\\242.4 267\\nan nan\\247.7 268.3\\254.9 274.2\\nan nan\\256.9 275.5\\264.1 280.8\\nan nan\\267.4 247.2\\275.3 255.1\\nan nan\\275.3 257.7\\280.6 264.3\\nan nan\\258.2 231.4\\267.4 241.9\\nan nan\\248.3 216.2\\256.2 225.5\\nan nan\\319.5 232.7\\330 243.2\\nan nan\\308.3 216.9\\319.5 225.5\\nan nan\\272.7 292\\292.5 272.2\\nan nan\\241.7 247.2\\249 240.6\\nan nan\\292.5 298.6\\308.3 310.4\\nan nan\\299.7 292.7\\310.9 303.9\\nan nan\\
420.3 442.8\\428.8 434.9\\nan nan\\434.8 429\\442.7 420.4\\nan nan\\382 430.3\\391.3 423\\nan nan\\412.4 424.3\\424.2 412.5\\nan nan\\366.3 409.8\\374.4 401\\nan nan\\392.6 408.5\\408.4 393.4\\nan nan\\422.9 391.4\\430.8 382.2\\nan nan\\400.5 374.3\\410.4 365.7\\nan nan\\358.3 373\\372.2 358.5\\nan nan\\372.2 376.3\\383.4 384.2\\nan nan\\376.1 372.3\\384 377.6\\nan nan\\407 407.2\\414.3 414.5\\nan nan\\350.4 351.2\\359.7 359.1\\nan nan\\391.3 412.5\\394.6 411.8\\nan nan\\411.7 394\\414.3 390.7\\nan nan\\395.2 389.4\\397.2 386.1\\nan nan\\361 442\\361.5 441\\nan nan\\368 442\\368.5 441\\nan nan\\
546.1 572.8\\555.3 562.7\\nan nan\\562.5 554.8\\572.8 546.2\\nan nan\\484.8 556.1\\498.6 543.6\\nan nan\\469 536.3\\480.9 526.5\\nan nan\\517.1 531.7\\531.6 517.2\\nan nan\\490.1 508\\497.3 501.4\\nan nan\\501.9 497.5\\508.5 490.2\\nan nan\\543.4 498.1\\555.9 485\\nan nan\\526.3 480.3\\536.9 469.2\\nan nan\\448.6 479.7\\457.1 473.1\\nan nan\\473 457.3\\480.2 447.7\\nan nan\\455.8 461.2\\462.4 457.9\\nan nan\\
168 195\\171 196\\nan nan\\194 168\\194 170\\nan nan\\34 44\\35 45\\nan nan\\43.5 34\\44 35\\};
\addplot[strk={orgB}{1.2pt}] table[row sep=\\] {x y\\
77.6 165.3\\84.9 172.3\\nan nan\\62.5 155.6\\71.7 164.6\\nan nan\\93.4 115.3\\109.2 127.8\\nan nan\\61.8 94.5\\71.7 102.8\\nan nan\\115.1 93.8\\128.3 109\\nan nan\\93.4 61.9\\103.3 70.9\\nan nan\\
216.7 309.8\\226.6 319.7\\nan nan\\232.5 319.7\\243.7 330.5\\nan nan\\231.9 258.4\\242.4 267\\nan nan\\319.5 232.7\\330 243.2\\nan nan\\
392.6 408.5\\408.4 393.4\\nan nan\\358.3 373\\372.2 358.5\\nan nan\\366.3 409.8\\374.4 401\\nan nan\\
484.8 556.1\\498.6 543.6\\nan nan\\469 536.3\\480.9 526.5\\nan nan\\543.4 498.1\\555.9 485\\nan nan\\526.3 480.3\\536.9 469.2\\};
% ---------- diagonal ----------
\addplot[strk={steel}{16pt}] coordinates {(6,6)(14,14)};
\addplot[strk={ridgeA}{13pt}] coordinates {(6,6)(14,14)};
\addplot[strk={steel}{15pt}] coordinates {(30,30)(44,44)};
\addplot[strk={steel}{18pt}] coordinates {(596,596)(612,612)};
\addplot[strk={ridgeB}{15pt}] coordinates {(596,596)(612,612)};
\addplot[strk={steel}{11pt}] coordinates {(0.5,0.5)(658.5,658.5)};
\addplot[strk={ridgeA}{9.5pt}] coordinates {(0.5,0.5)(658.5,658.5)};
\addplot[strk={ridgeB}{7.5pt}] coordinates {(0.5,0.5)(658.5,658.5)};
\addplot[strk={orgA}{1.8pt}] coordinates {(592,598)(612,618)};
\addplot[strk={orgA}{1.8pt}] coordinates {(598,592)(618,612)};
\addplot[strk={orgA}{1.8pt}] coordinates {(2,7)(12,17)};
\addplot[strk={orgA}{1.8pt}] coordinates {(7,2)(17,12)};
\addplot[strk={orgA}{5.6pt}] coordinates {(0.5,0.5)(658.5,658.5)};
\addplot[strk={redA}{3.8pt}] coordinates {(0.5,0.5)(658.5,658.5)};
% ---------- white lines ----------
\addplot[white,line width=.7pt,no marks] coordinates {(222.6,0.5)(222.6,658.5)};
\addplot[white,line width=.7pt,no marks] coordinates {(581.6,0.5)(581.6,658.5)};
\addplot[white,line width=.7pt,no marks] coordinates {(0.5,517.6)(658.5,517.6)};
\end{axis}
% ---------- colour bar ----------
\begin{axis}[
 at={(944.6pt,115pt)}, anchor=south west, scale only axis, width=6.15pt, height=832pt,
 xmin=0,xmax=1,ymin=0.76,ymax=21.25, xtick=\empty,
 ytick={5,10,15,20}, ytick pos=right, tick align=outside, major tick length=3.5pt,
 tick style={black, line width=2pt, line cap=round},
 axis on top, axis line style={line width=2.5pt, black},
 /pgf/number format/assume math mode=true,
 yticklabel style={font=\bfseries\fontsize{24.5}{24.5}\selectfont,xshift=-3pt},
]
\addplot[seg=redA] coordinates {(0,0.76)(1,0.76)(1,2.03)(0,2.03)} --cycle;
\addplot[seg=cb1] coordinates {(0,2.03)(1,2.03)(1,3.3)(0,3.3)} --cycle;
\addplot[seg=cb2] coordinates {(0,3.3)(1,3.3)(1,4.6)(0,4.6)} --cycle;
\addplot[seg=cb3] coordinates {(0,4.6)(1,4.6)(1,5.89)(0,5.89)} --cycle;
\addplot[seg=cb4] coordinates {(0,5.89)(1,5.89)(1,7.17)(0,7.17)} --cycle;
\addplot[seg=orgA] coordinates {(0,7.17)(1,7.17)(1,8.46)(0,8.46)} --cycle;
\addplot[seg=cb5] coordinates {(0,8.46)(1,8.46)(1,9.75)(0,9.75)} --cycle;
\addplot[seg=cb6] coordinates {(0,9.75)(1,9.75)(1,11.03)(0,11.03)} --cycle;
\addplot[seg=cb7] coordinates {(0,11.03)(1,11.03)(1,12.32)(0,12.32)} --cycle;
\addplot[seg=cb8] coordinates {(0,12.32)(1,12.32)(1,13.6)(0,13.6)} --cycle;
\addplot[seg=cb9] coordinates {(0,13.6)(1,13.6)(1,14.89)(0,14.89)} --cycle;
\addplot[seg=cb10] coordinates {(0,14.89)(1,14.89)(1,16.17)(0,16.17)} --cycle;
\addplot[seg=cb11] coordinates {(0,16.17)(1,16.17)(1,17.46)(0,17.46)} --cycle;
\addplot[seg=cb12] coordinates {(0,17.46)(1,17.46)(1,18.75)(0,18.75)} --cycle;
\addplot[seg=cb13] coordinates {(0,18.75)(1,18.75)(1,20)(0,20)} --cycle;
\addplot[seg=bgblue] coordinates {(0,20)(1,20)(1,21.25)(0,21.25)} --cycle;
\end{axis}
\end{tikzpicture}
\end{document}
